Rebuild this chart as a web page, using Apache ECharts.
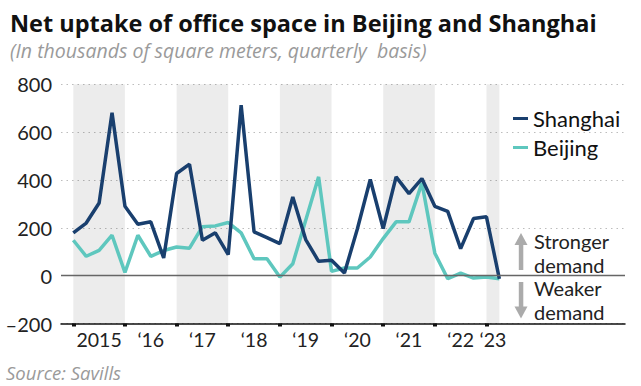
<!DOCTYPE html>
<html>
<head>
<meta charset="utf-8">
<script src="https://cdn.jsdelivr.net/npm/echarts@6/dist/echarts.min.js"></script>
<style>
html,body{margin:0;padding:0;background:#fff;}
#chart{width:641px;height:386px;}
</style>
</head>
<body>
<div id="chart"></div>
<script>
// Quarterly index 0 = 2015 Q1 ... 33 = 2023 Q2
var quarters = ['2015Q1','2015Q2','2015Q3','2015Q4','2016Q1','2016Q2','2016Q3','2016Q4',
  '2017Q1','2017Q2','2017Q3','2017Q4','2018Q1','2018Q2','2018Q3','2018Q4',
  '2019Q1','2019Q2','2019Q3','2019Q4','2020Q1','2020Q2','2020Q3','2020Q4',
  '2021Q1','2021Q2','2021Q3','2021Q4','2022Q1','2022Q2','2022Q3','2022Q4',
  '2023Q1','2023Q2'];
var shanghai = [179, 220, 304, 681, 290, 215, 225, 74, 427, 466, 148, 179, 88, 713, 183, 159,
  134, 329, 151, 60, 64, 11, 195, 402, 197, 413, 343, 406, 290, 269, 113, 239, 246, -13];
var beijing = [148, 81, 106, 169, 13, 169, 81, 105, 120, 115, 205, 208, 222, 179, 71, 71,
  -6, 50, 232, 413, 18, 32, 32, 78, 155, 225, 225, 388, 94, -13, 11, -10, -6, -13];
var yearLabels = ['2015', '\u201816', '\u201817', '\u201818', '\u201819', '\u201820', '\u201821', '\u201822', '\u201823'];
var shadedYears = [2015, 2017, 2019, 2021, 2023];

function toPairs(arr){ return arr.map(function(v,i){ return [i, v]; }); }
var last = quarters.length - 1;
var yearStart = yearLabels.map(function(_, k){ return 4*k; });
var labelPos = yearLabels.map(function(_, k){ return Math.min(4*k + 2, (4*k + last)/2); });
var bands = shadedYears.map(function(y){
  var s = (y - 2015) * 4;
  return [{xAxis: s}, {xAxis: Math.min(s + 4, last)}];
});

var chart = echarts.init(document.getElementById('chart'), null, {renderer: 'svg'});
var font = 'Lato, "Noto Sans", sans-serif';
var wfont = '"Open Sans", "Noto Sans", sans-serif';
chart.setOption({
  animation: false,
  backgroundColor: '#fff',
  title: {
    left: 5, top: 4,
    text: 'Net uptake of office space in Beijing and Shanghai',
    textStyle: {fontFamily: wfont, fontSize: 23.5, fontWeight: 'bold', color: '#111', lineHeight: 28},
    subtext: '(In thousands of square meters, quarterly  basis)',
    subtextStyle: {fontFamily: wfont, fontSize: 19.5, fontStyle: 'italic', color: '#9a9a9a', lineHeight: 22},
    itemGap: 2
  },
  legend: {
    orient: 'vertical', left: 513, top: 107, padding: 0,
    itemWidth: 15, itemHeight: 3, itemGap: 6, icon: 'rect',
    data: ['Shanghai', 'Beijing'],
    textStyle: {fontFamily: font, fontSize: 22, color: '#111', lineHeight: 23}
  },
  grid: {left: 61, right: 16, top: 84.3, bottom: 62.5, containLabel: false},
  xAxis: {
    type: 'value', min: -0.953, max: 42.73,
    axisLine: {show: true, onZero: false, lineStyle: {color: '#111', width: 1.5}},
    axisTick: {show: true, customValues: yearStart, length: 3, lineStyle: {color: '#111', width: 4}},
    axisLabel: {
      customValues: labelPos, margin: 6,
      fontFamily: font, fontSize: 19.5, color: '#222',
      formatter: function(v){
        var k = labelPos.indexOf(v);
        return k >= 0 ? yearLabels[k] : '';
      }
    },
    splitLine: {show: false}
  },
  yAxis: {
    type: 'value', min: -200, max: 800, interval: 200,
    axisLine: {show: false}, axisTick: {show: false},
    axisLabel: {
      margin: 9, fontFamily: font, fontSize: 20, color: '#222',
      formatter: function(v){ return v < 0 ? '\u2013' + Math.abs(v) : String(v); }
    },
    splitLine: {show: true, lineStyle: {color: '#bdbdbd', type: [1.5, 4], width: 1}}
  },
  series: [
    {
      name: 'Beijing', type: 'line', data: toPairs(beijing),
      showSymbol: false, symbol: 'none',
      lineStyle: {color: '#5ec7be', width: 3.5}, itemStyle: {color: '#5ec7be'},
      z: 2,
      markArea: {
        silent: true,
        itemStyle: {color: 'rgba(0,0,0,0.075)'},
        data: bands
      }
    },
    {
      name: 'Shanghai', type: 'line', data: toPairs(shanghai),
      showSymbol: false, symbol: 'none',
      lineStyle: {color: '#193f6e', width: 3.5}, itemStyle: {color: '#193f6e'},
      z: 3,
      markLine: {
        silent: true, symbol: 'none', label: {show: false},
        lineStyle: {color: '#666', width: 1.3, type: 'solid'},
        data: [{yAxis: 0}]
      }
    }
  ],
  graphic: [
    {type: 'polygon', shape: {points: [[521,233],[527.5,245],[514.5,245]]}, style: {fill: '#ababab'}},
    {type: 'rect', shape: {x: 518.8, y: 244, width: 4.5, height: 26}, style: {fill: '#ababab'}},
    {type: 'rect', shape: {x: 518.8, y: 282, width: 4.5, height: 25.5}, style: {fill: '#ababab'}},
    {type: 'polygon', shape: {points: [[514.5,306.5],[527.5,306.5],[521,318.5]]}, style: {fill: '#ababab'}},
    {type: 'text', left: 534, top: 228.6, style: {text: 'Stronger', font: '20px ' + font, fill: '#222', lineHeight: 24}},
    {type: 'text', left: 534, top: 252.8, style: {text: 'demand', font: '20px ' + font, fill: '#222', lineHeight: 24}},
    {type: 'text', left: 534, top: 275.6, style: {text: 'Weaker', font: '20px ' + font, fill: '#222', lineHeight: 24}},
    {type: 'text', left: 534, top: 299.8, style: {text: 'demand', font: '20px ' + font, fill: '#222', lineHeight: 24}},
    {type: 'text', left: 6, top: 363, style: {text: 'Source: Savills', font: 'italic 18.5px ' + wfont, fill: '#9a9a9a'}}
  ]
});
</script>
</body>
</html>
